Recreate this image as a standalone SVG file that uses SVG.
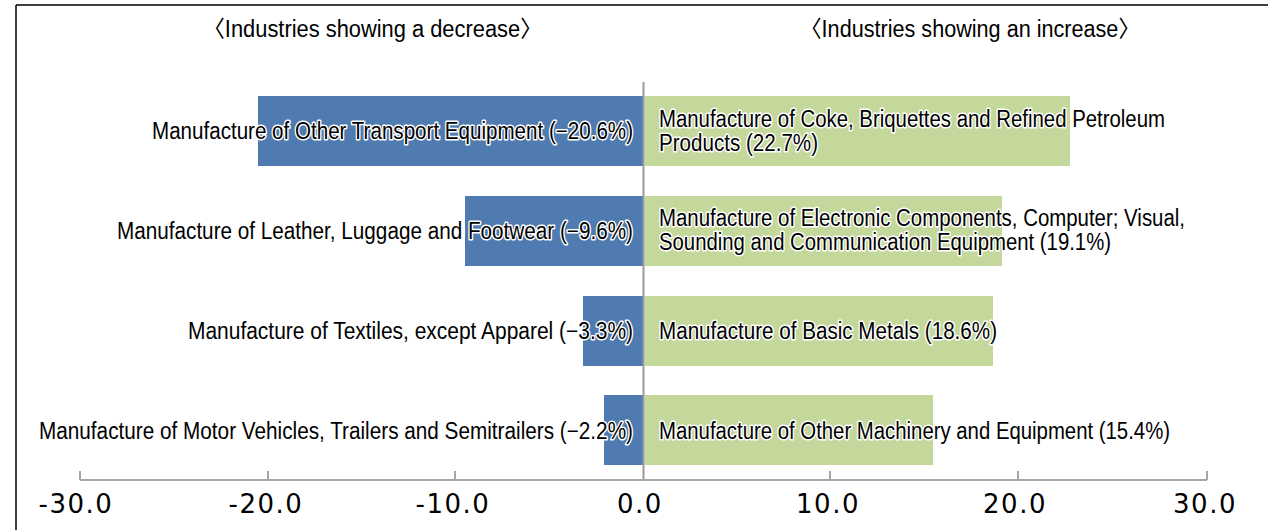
<svg xmlns="http://www.w3.org/2000/svg" width="1268" height="530" viewBox="0 0 1268 530">
<style>
.lbl{font-family:"Liberation Sans Narrow","Liberation Sans","Noto Sans CJK KR",Arial,sans-serif;font-size:23px;fill:#000;stroke:#fff;stroke-width:3px;stroke-linejoin:round;paint-order:stroke fill}
.ttl{font-family:"Liberation Sans Narrow","Liberation Sans","Noto Sans CJK KR",Arial,sans-serif;font-size:23px;fill:#000}
.ax{font-family:"DejaVu Sans","Noto Sans",sans-serif;font-size:26px;fill:#000;text-anchor:middle;letter-spacing:1.5px}
.neg{fill:#4f7bb0}
.pos{fill:#c4d89c}
.gl{stroke:#a6a6a6;stroke-width:2;fill:none}
</style>
<rect x="0" y="0" width="1268" height="530" fill="#fff"/>
<path d="M16 5 H1268 M16 5 V530" stroke="#000" stroke-width="1.5" fill="none"/>
<g id="titles">
<text class="ttl" x="203" y="37" textLength="339" lengthAdjust="spacingAndGlyphs">〈Industries showing a decrease〉</text>
<text class="ttl" x="800" y="37" textLength="340" lengthAdjust="spacingAndGlyphs">〈Industries showing an increase〉</text>
</g>
<g id="bar-other-transport">
<rect class="neg" x="258" y="96" width="385.5" height="70"/>
<text class="lbl" x="152" y="139" textLength="481" lengthAdjust="spacingAndGlyphs">Manufacture of Other Transport Equipment (−20.6%)</text>
</g>
<g id="bar-leather">
<rect class="neg" x="465" y="196" width="178.5" height="70"/>
<text class="lbl" x="117" y="239" textLength="516" lengthAdjust="spacingAndGlyphs">Manufacture of Leather, Luggage and Footwear (−9.6%)</text>
</g>
<g id="bar-textiles">
<rect class="neg" x="583" y="296" width="60.5" height="70"/>
<text class="lbl" x="188" y="339" textLength="445" lengthAdjust="spacingAndGlyphs">Manufacture of Textiles, except Apparel (−3.3%)</text>
</g>
<g id="bar-motor">
<rect class="neg" x="604" y="395" width="39.5" height="70"/>
<text class="lbl" x="39" y="439" textLength="594" lengthAdjust="spacingAndGlyphs">Manufacture of Motor Vehicles, Trailers and Semitrailers (−2.2%)</text>
</g>
<g id="bar-coke">
<rect class="pos" x="644.5" y="96" width="425.5" height="70"/>
<text class="lbl" x="659" y="127" textLength="506" lengthAdjust="spacingAndGlyphs">Manufacture of Coke, Briquettes and Refined Petroleum</text>
<text class="lbl" x="659" y="151" textLength="159" lengthAdjust="spacingAndGlyphs">Products (22.7%)</text>
</g>
<g id="bar-electronic">
<rect class="pos" x="644.5" y="196" width="357.5" height="70"/>
<text class="lbl" x="659" y="226" textLength="526" lengthAdjust="spacingAndGlyphs">Manufacture of Electronic Components, Computer; Visual,</text>
<text class="lbl" x="659" y="250" textLength="452" lengthAdjust="spacingAndGlyphs">Sounding and Communication Equipment (19.1%)</text>
</g>
<g id="bar-basic-metals">
<rect class="pos" x="644.5" y="296" width="348.5" height="70"/>
<text class="lbl" x="659" y="339" textLength="338" lengthAdjust="spacingAndGlyphs">Manufacture of Basic Metals (18.6%)</text>
</g>
<g id="bar-machinery">
<rect class="pos" x="644.5" y="395" width="288.5" height="70"/>
<text class="lbl" x="659" y="439" textLength="511" lengthAdjust="spacingAndGlyphs">Manufacture of Other Machinery and Equipment (15.4%)</text>
</g>
<g id="connectors">
<line x1="643.5" y1="82" x2="643.5" y2="480" stroke="#999" stroke-width="2"/>
<path class="gl" d="M80 480 H1207 M80 471 V480 M268 471 V480 M455 471 V480 M830 471 V480 M1018 471 V480 M1207 471 V480"/>
</g>
<g id="axis-labels">
<text class="ax" x="76" y="513">-30.0</text>
<text class="ax" x="266" y="513">-20.0</text>
<text class="ax" x="453" y="513">-10.0</text>
<text class="ax" x="640" y="513">0.0</text>
<text class="ax" x="828" y="513">10.0</text>
<text class="ax" x="1015" y="513">20.0</text>
<text class="ax" x="1205" y="513">30.0</text>
</g>
</svg>
